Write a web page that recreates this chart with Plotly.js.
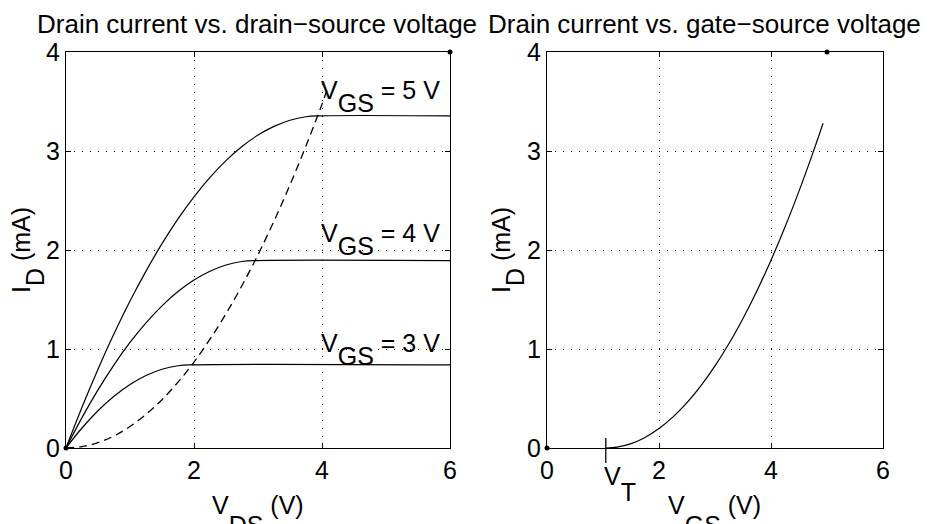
<!DOCTYPE html>
<html>
<head>
<meta charset="utf-8">
<script src="https://cdn.plot.ly/plotly-3.0.1.min.js"></script>
<style>html,body{margin:0;padding:0;background:#fff;}#chart{width:941px;height:524px;}</style>
</head>
<body>
<div id="chart"></div>
<script>
// ---- data ----
var vdsTriode5 = [0, 0.25, 0.5, 0.75, 1, 1.25, 1.5, 1.75, 2, 2.25, 2.5, 2.75, 3, 3.25, 3.5, 3.75, 3.95, 6];
var idVgs5     = [0, 0.411, 0.795, 1.153, 1.484, 1.787, 2.064, 2.314, 2.537, 2.733, 2.903, 3.045, 3.161, 3.249, 3.311, 3.346, 3.355, 3.355];
var vdsTriode4 = [0, 0.25, 0.5, 0.75, 1, 1.25, 1.5, 1.75, 2, 2.25, 2.5, 2.75, 2.95, 6];
var idVgs4     = [0, 0.307, 0.587, 0.840, 1.066, 1.264, 1.436, 1.580, 1.697, 1.786, 1.849, 1.884, 1.893, 1.893];
var vdsTriode3 = [0, 0.25, 0.5, 0.75, 1, 1.25, 1.5, 1.75, 1.95, 6];
var idVgs3     = [0, 0.202, 0.376, 0.522, 0.641, 0.732, 0.796, 0.831, 0.840, 0.840];
var vdsBoundary = [0, 0.25, 0.5, 0.75, 1, 1.25, 1.5, 1.75, 2, 2.25, 2.5, 2.75, 3, 3.25, 3.5, 3.75, 4, 4.08];
var idBoundary  = [0, 0.014, 0.054, 0.122, 0.217, 0.339, 0.488, 0.665, 0.868, 1.099, 1.356, 1.641, 1.953, 2.292, 2.658, 3.052, 3.472, 3.62];
var vgsValues = [1.05, 1.25, 1.5, 1.75, 2, 2.25, 2.5, 2.75, 3, 3.25, 3.5, 3.75, 4, 4.25, 4.5, 4.75, 4.93];
var idSat     = [0, 0.009, 0.044, 0.107, 0.197, 0.314, 0.458, 0.630, 0.829, 1.055, 1.309, 1.589, 1.897, 2.232, 2.595, 2.984, 3.28];
var vT = 1.05;
var vtMarkSpan = [-0.038, 0.025];   // tick across the axis, in plot-height fractions
var dotsLeftX = [0, 6], dotsLeftY = [0, 4];
var dotsRightX = [0, 5], dotsRightY = [0, 4];
var xTicks = [0, 2, 4, 6];
var yTicks = [0, 1, 2, 3, 4];
var vgsLevels = [5, 4, 3];
var curveLabelX = [4, 4, 4];
var curveLabelY = [3.33, 1.89, 0.78];
var titles = ['Drain current vs. drain\u2212source voltage', 'Drain current vs. gate\u2212source voltage'];

var FONT = 'Liberation Sans, Arial, sans-serif';
var FS = 25;
var lineStyle = {color: '#000', width: 1.2, shape: 'spline', smoothing: 1};

// full-size subscript lowered by `shift` px (MATLAB TeX style)
function sub(t, shift) {
  var outer = (shift / 0.21).toFixed(1);
  return '<span style="font-size:' + outer + 'px"><sub><span style="font-size:' + FS + 'px">' + t + '</span></sub></span>';
}

var traces = [
  {x: vdsTriode5, y: idVgs5, xaxis: 'x', yaxis: 'y', mode: 'lines', line: lineStyle},
  {x: vdsTriode4, y: idVgs4, xaxis: 'x', yaxis: 'y', mode: 'lines', line: lineStyle},
  {x: vdsTriode3, y: idVgs3, xaxis: 'x', yaxis: 'y', mode: 'lines', line: lineStyle},
  {x: vdsBoundary, y: idBoundary, xaxis: 'x', yaxis: 'y', mode: 'lines', line: {color: '#000', width: 1.3, dash: '8px,5px', shape: 'spline', smoothing: 1}},
  {x: dotsLeftX, y: dotsLeftY, xaxis: 'x', yaxis: 'y', mode: 'markers', marker: {color: '#000', size: 5}, cliponaxis: false},
  {x: vgsValues, y: idSat, xaxis: 'x2', yaxis: 'y2', mode: 'lines', line: lineStyle},
  {x: dotsRightX, y: dotsRightY, xaxis: 'x2', yaxis: 'y2', mode: 'markers', marker: {color: '#000', size: 5}, cliponaxis: false}
];

function common() {
  return {showline: true, mirror: 'ticks', linecolor: '#000', linewidth: 1.2, ticks: 'inside', ticklen: 5, tickcolor: '#000',
    showgrid: true, gridcolor: '#000', gridwidth: 1, griddash: '1px,7px', zeroline: false,
    tickfont: {family: FONT, size: FS, color: '#000'}, fixedrange: true};
}
function xax(domain, anchor) {
  return Object.assign(common(), {domain: domain, anchor: anchor, range: [0, 6], tickvals: xTicks, ticktext: xTicks.map(String)});
}
function yax(anchor) {
  return Object.assign(common(), {domain: [0, 1], anchor: anchor, range: [0, 4], tickvals: yTicks, ticktext: yTicks.map(String)});
}

var annFont = {family: FONT, size: FS, color: '#000'};
var titleFont = {family: FONT, size: 26, color: '#000'};
var annotations = [];
for (var i = 0; i < vgsLevels.length; i++) {
  annotations.push({text: 'V' + sub('GS', 13) + ' = ' + vgsLevels[i] + ' V', x: curveLabelX[i], y: curveLabelY[i], xref: 'x', yref: 'y',
    xanchor: 'left', yanchor: 'bottom', showarrow: false, font: annFont, borderpad: 0, xshift: -2});
}
annotations.push({text: titles[0], x: 0.2726, y: 1.07, xref: 'paper', yref: 'paper', xanchor: 'center', yanchor: 'middle', showarrow: false, font: titleFont});
annotations.push({text: titles[1], x: 0.7487, y: 1.07, xref: 'paper', yref: 'paper', xanchor: 'center', yanchor: 'middle', showarrow: false, font: titleFont});
annotations.push({text: 'V' + sub('DS', 20) + ' (V)', x: 0.2737, y: -0.2323, xref: 'paper', yref: 'paper', xanchor: 'center', yanchor: 'bottom', showarrow: false, font: annFont, borderpad: 0});
annotations.push({text: 'V' + sub('GS', 20) + ' (V)', x: 0.7588, y: -0.2323, xref: 'paper', yref: 'paper', xanchor: 'center', yanchor: 'bottom', showarrow: false, font: annFont, borderpad: 0});
annotations.push({text: 'I' + sub('D', 14) + ' (mA)', x: 50 / 941, y: 0.5, xref: 'paper', yref: 'paper', xanchor: 'right', yanchor: 'middle', textangle: -90, showarrow: false, font: annFont, borderpad: 0});
annotations.push({text: 'I' + sub('D', 14) + ' (mA)', x: 530 / 941, y: 0.5, xref: 'paper', yref: 'paper', xanchor: 'right', yanchor: 'middle', textangle: -90, showarrow: false, font: annFont, borderpad: 0});
annotations.push({text: 'V' + sub('T', 16), x: vT, y: -0.1486, xref: 'x2', yref: 'paper', xanchor: 'left', yanchor: 'bottom', xshift: -3, showarrow: false, font: annFont, borderpad: 0});

var layout = {
  width: 941, height: 524,
  margin: {l: 0, r: 0, t: 52, b: 76},
  paper_bgcolor: '#fff', plot_bgcolor: '#fff',
  showlegend: false,
  xaxis: xax([66/941, 450/941], 'y'),
  yaxis: yax('x'),
  xaxis2: xax([547/941, 883/941], 'y2'),
  yaxis2: yax('x2'),
  annotations: annotations,
  shapes: [{type: 'line', xref: 'x2', yref: 'paper', x0: vT, x1: vT, y0: vtMarkSpan[0], y1: vtMarkSpan[1], line: {color: '#000', width: 1.3}}],
  font: {family: FONT, color: '#000'}
};

Plotly.newPlot('chart', traces, layout, {displayModeBar: false, staticPlot: true});
</script>
</body>
</html>
